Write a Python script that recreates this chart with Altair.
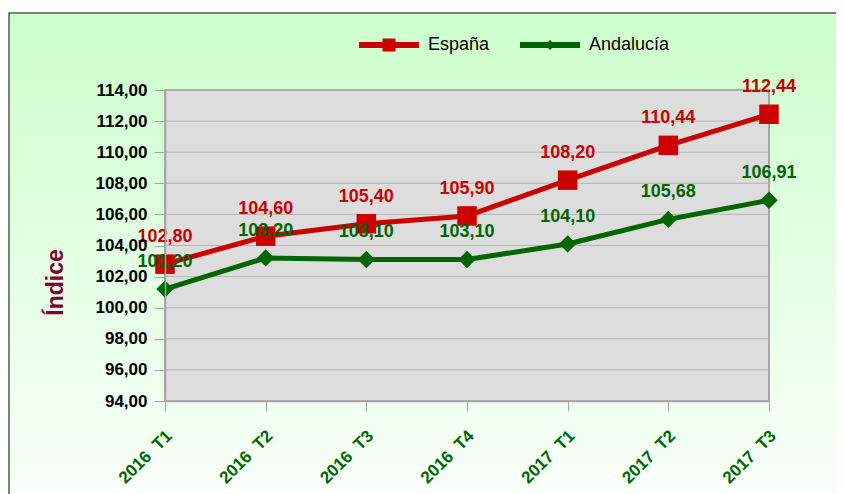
import altair as alt
import pandas as pd

# ---- data ----
periods = ["2016\u00a0\u00a0T1", "2016\u00a0\u00a0T2", "2016\u00a0\u00a0T3", "2016\u00a0\u00a0T4",
           "2017\u00a0\u00a0T1", "2017\u00a0\u00a0T2", "2017\u00a0\u00a0T3"]
espana = [102.80, 104.60, 105.40, 105.90, 108.20, 110.44, 112.44]
andalucia = [101.20, 103.20, 103.10, 103.10, 104.10, 105.68, 106.91]
series = ["España", "Andalucía"]
y_ticks = [94, 96, 98, 100, 102, 104, 106, 108, 110, 112, 114]

colors = ["#cc0000", "#006600"]
W, H = 604, 311

rows = []
for s, vals in zip(series, [espana, andalucia]):
    for p, v in zip(periods, vals):
        rows.append({"periodo": p, "serie": s, "valor": v})
df = pd.DataFrame(rows)
grid_df = pd.DataFrame({"valor": y_ticks})
one = pd.DataFrame({"a": [0]})

FONT = "Liberation Sans"

y_enc = alt.Y(
    "valor:Q",
    scale=alt.Scale(domain=[94, 114], nice=False, zero=False),
    axis=alt.Axis(
        values=y_ticks, grid=False, zindex=1,
        labelExpr="replace(format(datum.value, '.2f'), '.', ',')",
        labelFontSize=17, labelFontWeight="bold", labelColor="#000000", labelPadding=7,
        tickSize=11, tickColor="#a6a6a6", domainColor="#a6a6a6", domainWidth=1.5,
        title="Índice", titleFontSize=23, titleFontWeight="bold", titleColor="#800030",
        titleAngle=270, titleX=-103, titleY=192, titleAlign="center", titleBaseline="alphabetic",
    ),
)
x_enc = alt.X(
    "periodo:N",
    sort=periods,
    scale=alt.Scale(domain=periods, type="point", padding=0),
    axis=alt.Axis(
        title=None, zindex=1, labelAngle=315, labelAlign="right", labelBaseline="middle",
        labelFontSize=17, labelFontWeight="bold", labelColor="#006600",
        labelPadding=22, labelOffset=4,
        tickSize=10, tickColor="#a6a6a6", domainColor="#a6a6a6", domainWidth=1.5,
    ),
)
color_nolegend = alt.Color("serie:N", scale=alt.Scale(domain=series, range=colors), legend=None)

gradient = alt.LinearGradient(
    gradient="linear", x1=0, x2=0, y1=0, y2=1,
    stops=[alt.GradientStop(color="#ccffcc", offset=0),
           alt.GradientStop(color="#fbfffb", offset=1)],
)

bg = alt.Chart(one).mark_rect(fill=gradient, stroke="#4d5d4d", strokeWidth=1.5).encode(
    x=alt.value(-156), x2=alt.value(W + 90), y=alt.value(-77), y2=alt.value(H + 110)
)
plotbg = alt.Chart(one).mark_rect(fill="#dddddd", stroke="#a6a6a6", strokeWidth=2).encode(
    x=alt.value(0), x2=alt.value(W), y=alt.value(0), y2=alt.value(H)
)
grid = alt.Chart(grid_df).mark_rule(color="#b4b4b4", strokeWidth=1).encode(y=y_enc)

lines = alt.Chart(df).mark_line(strokeWidth=5).encode(
    x=x_enc, y=y_enc, color=color_nolegend, detail="serie:N"
)
points = alt.Chart(df).mark_point(filled=True, opacity=1).encode(
    x=x_enc, y=y_enc, color=color_nolegend,
    shape=alt.Shape("serie:N", scale=alt.Scale(domain=series, range=["square", "diamond"]), legend=None),
    size=alt.Size("serie:N", scale=alt.Scale(domain=series, range=[380, 300]), legend=None),
)
labels = alt.Chart(df).transform_calculate(
    etiqueta="replace(format(datum.valor, '.2f'), '.', ',')"
).mark_text(fontSize=18, fontWeight="bold", dy=-27, baseline="middle", align="center").encode(
    x=x_enc, y=y_enc, text="etiqueta:N", color=color_nolegend
)

path_es = "M0,-3H60V3H0Z M23.5,-6.5H36.5V6.5H23.5Z"
path_an = "M0,-3H60V3H0Z M30,-5L35,0L30,5L25,0Z"
leg = alt.Legend(
    title=None, orient="none", direction="horizontal", legendX=185, legendY=-54,
    labelFontSize=18, labelColor="#000000", labelOffset=60, columnPadding=21,
    symbolSize=4, symbolStrokeWidth=0, symbolOpacity=1, padding=0,
)
legend_layer = alt.Chart(df).transform_filter("false").mark_point(filled=True, size=4).encode(
    color=alt.Color("serie:N", scale=alt.Scale(domain=series, range=colors), legend=leg),
    shape=alt.Shape("serie:N", scale=alt.Scale(domain=series, range=[path_es, path_an]), legend=leg),
)

chart = alt.layer(bg, plotbg, grid, lines, points, labels, legend_layer).resolve_scale(
    color="independent", shape="independent", size="independent"
).properties(
    width=W, height=H,
    padding={"left": 157, "top": 82, "right": 67, "bottom": 93},
    autosize=alt.AutoSizeParams(type="none"),
).configure(font=FONT).configure_view(stroke=None)

chart.save("out.html", embed_options={"renderer": "svg", "actions": False})
